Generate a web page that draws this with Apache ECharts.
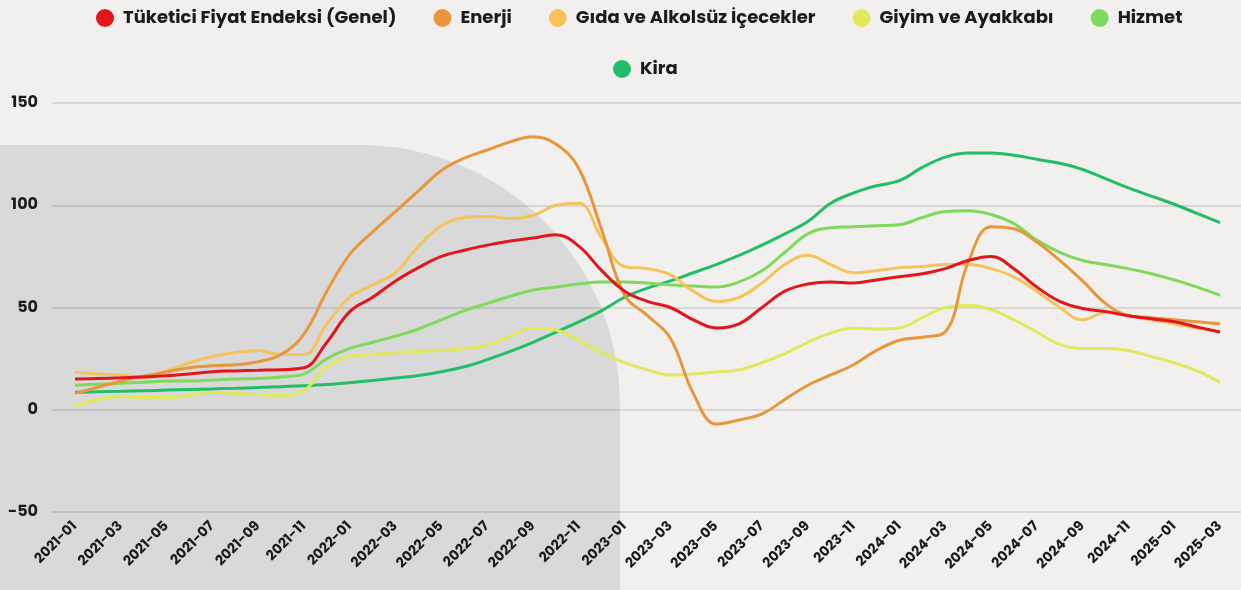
<!DOCTYPE html>
<html>
<head>
<meta charset="utf-8">
<script src="https://cdn.jsdelivr.net/npm/echarts@6/dist/echarts.min.js"></script>
<style>
  html, body { margin: 0; padding: 0; background: #f1f0ee; }
  #main { width: 1241px; height: 590px; }
</style>
</head>
<body>
<div id="main"></div>
<script>
// aylar 2021-01 .. 2025-03
var months = [];
for (var y = 2021; y <= 2025; y++) {
	for (var m = 1; m <= 12; m++) {
		if (y == 2025 && m > 3) break;
		months.push(y + '-' + (m < 10 ? '0' + m : m));
	}
}

var tufe = [15, 15.3, 15.6, 16, 16.6, 17.5, 18.6, 19, 19.3, 19.6, 20.5, 33, 48, 55, 63, 69.5, 75, 78, 80.5, 82.5, 84, 85.6, 80, 68, 58, 53, 50, 44, 40, 42, 50, 58, 61.5, 62.5, 62, 63.5, 65, 66.5, 69, 73, 75, 69, 60, 53, 49.5, 48, 46, 44.5, 43, 40.5, 38];
var enerji = [8, 11, 14, 16.5, 18.5, 20.5, 21.5, 22, 23.5, 27, 37, 58, 76, 87, 97, 107, 117, 123, 127, 131, 133.5, 130, 118, 88, 56, 46, 35, 8, -7, -5, -2, 5, 12, 17, 22, 29, 34, 35.5, 38, 72, 89.5, 88.5, 82, 73, 63, 52, 46, 45, 44, 43, 42];
var gida = [18.5, 17.5, 17, 16, 19, 23, 26, 28, 29, 27, 27, 42, 55, 61, 67, 80, 90, 94, 94.5, 93.5, 95, 100, 101, 84, 70, 69, 66, 58, 53, 55, 62, 71, 75.5, 71, 67, 68, 69.5, 70, 71, 71, 69, 65, 58, 50, 44, 47.5, 46, 44, 42, 40, 38];
var giyim = [1.5, 5, 6.5, 6, 6, 7, 8.5, 8, 7.5, 7, 9.5, 21, 26, 27, 28, 28.5, 29, 30, 31.5, 36, 40, 39, 34, 28, 23, 19.5, 17, 17.5, 18.5, 19.5, 23, 27.5, 33, 37.5, 40, 39.5, 40, 45, 50, 51, 49, 44, 38, 32, 30, 30, 29, 26, 23, 19, 13.5];
var hizmet = [12, 12.5, 13, 13.5, 14, 14, 14.5, 15, 15.3, 16, 17.5, 25, 30, 33, 36, 39.5, 44, 48.5, 52, 55.5, 58.5, 60, 61.5, 62.5, 62.5, 62, 61, 60.5, 60, 62.5, 68, 77, 86, 89, 89.5, 90, 90.5, 94, 97, 97.3, 95.5, 91, 83, 77, 73, 71, 69, 66.5, 63.5, 60, 56];
var kira = [8.5, 8.8, 9, 9.3, 9.6, 9.9, 10.2, 10.5, 10.9, 11.3, 11.7, 12.3, 13.2, 14.3, 15.5, 16.8, 18.6, 21, 24.5, 28.5, 33, 38, 43, 48.5, 55, 59.5, 63, 67, 71, 75.5, 80.5, 86, 92, 101, 106, 109.5, 112, 118.5, 123.5, 125.5, 125.5, 124.5, 122.5, 120.5, 117.5, 113, 108.5, 104.5, 100.5, 96, 91.5];

var names = ['Tüketici Fiyat Endeksi (Genel)', 'Enerji', 'Gıda ve Alkolsüz İçecekler', 'Giyim ve Ayakkabı', 'Hizmet', 'Kira'];
var colors = ['#e3161d', '#e8963c', '#f4c35a', '#e2e85c', '#7fd95a', '#22bd68'];
var values = [tufe, enerji, gida, giyim, hizmet, kira];

var font = 'Poppins, Inter, "Noto Sans", sans-serif';
var myChart = echarts.init(document.getElementById('main'));

var series = [];
for (var i = 0; i < names.length; i++) {
	series.push({
		name: names[i],
		type: 'line',
		xAxisIndex: 0,
		yAxisIndex: 0,
		data: values[i],
		smooth: 0.4,
		showSymbol: false,
		lineStyle: { width: 3, color: colors[i] },
		itemStyle: { color: colors[i] },
		z: 10 - i
	});
}

var legendText = { fontFamily: font, fontSize: 18, fontWeight: 700, color: '#1b1b1b', padding: [0, 0, 0, 4] };

option = {
	backgroundColor: '#f1f0ee',
	animation: false,
	graphic: [{
		type: 'rect',
		z: -10,
		shape: { x: 0, y: 145, width: 620, height: 460, r: [0, 260, 0, 0] },
		style: { fill: '#d9d9d9' }
	}],
	legend: [{
		data: names.slice(0, 5),
		left: 91,
		top: 4,
		icon: 'circle',
		itemWidth: 18,
		itemHeight: 18,
		itemGap: 37,
		textStyle: legendText
	}, {
		data: ['Kira'],
		left: 608,
		top: 55,
		icon: 'circle',
		itemWidth: 18,
		itemHeight: 18,
		textStyle: legendText
	}],
	grid: [
		{ left: 75, right: 21, top: 103, bottom: 78 },
		{ left: 52, right: 0, top: 103, bottom: 78 }
	],
	xAxis: [{
		type: 'category',
		gridIndex: 0,
		data: months,
		boundaryGap: false,
		axisLine: { show: false },
		axisTick: { show: false },
		axisLabel: {
			interval: 1,
			rotate: 45,
			margin: 12,
			fontFamily: font,
			fontSize: 14,
			fontWeight: 700,
			color: '#1b1b1b'
		}
	}, {
		type: 'value',
		gridIndex: 1,
		min: 0,
		max: 1,
		show: false
	}],
	yAxis: [{
		type: 'value',
		gridIndex: 0,
		min: -50,
		max: 150,
		interval: 50,
		show: false
	}, {
		type: 'value',
		gridIndex: 1,
		min: -50,
		max: 150,
		interval: 50,
		axisLine: { show: false },
		axisTick: { show: false },
		splitLine: { lineStyle: { color: 'rgba(0,0,0,0.1)', width: 2 } },
		axisLabel: {
			margin: 14,
			fontFamily: font,
			fontSize: 16,
			fontWeight: 700,
			color: '#1b1b1b'
		}
	}],
	series: series
};

myChart.setOption(option);
</script>
</body>
</html>
